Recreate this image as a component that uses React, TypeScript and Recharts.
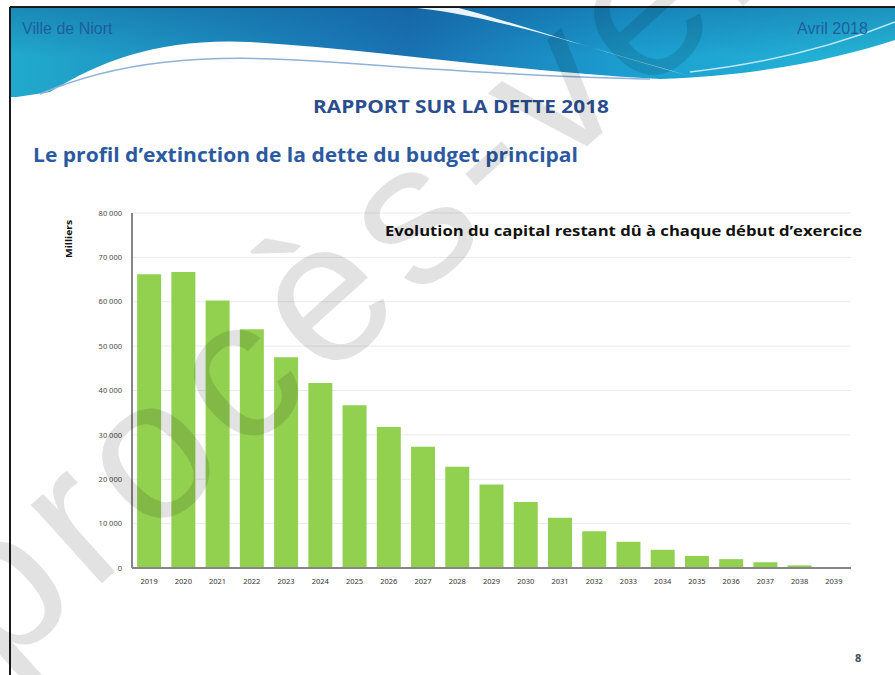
import React from 'react';
import { BarChart, Bar, XAxis, YAxis, CartesianGrid } from 'recharts';

// capital restant dû (milliers d'euros)
const years = [
  '2019', '2020', '2021', '2022', '2023', '2024', '2025', '2026', '2027', '2028', '2029',
  '2030', '2031', '2032', '2033', '2034', '2035', '2036', '2037', '2038', '2039',
];
const capital = [
  66200, 66700, 60300, 53800, 47500, 41700, 36700, 31800, 27300, 22800, 18800,
  14900, 11300, 8300, 5900, 4100, 2700, 2000, 1300, 600, 0,
];
const yTicks = [0, 10000, 20000, 30000, 40000, 50000, 60000, 70000, 80000];

const data = years.map((y, i) => ({ year: y, value: capital[i] }));

const fmt = (n: number) => (n === 0 ? '0' : `${n / 1000} 000`);

const W = 895;
const H = 675;

export default function App() {
  return (
    <div style={{ position: 'absolute', left: 0, top: 0, width: W, height: H, background: '#fff', overflow: 'hidden' }}>
      {/* header band of the slide */}
      <svg width={W} height={H} style={{ position: 'absolute', left: 0, top: 0 }}>
        <defs>
          <linearGradient id="band" x1="0" y1="0" x2="1" y2="0">
            <stop offset="0" stopColor="#21aacd" />
            <stop offset="0.45" stopColor="#1a72b3" />
            <stop offset="0.7" stopColor="#1c9fd0" />
            <stop offset="1" stopColor="#25b7d8" />
          </linearGradient>
          <linearGradient id="bandV" x1="0" y1="0" x2="0" y2="1">
            <stop offset="0" stopColor="#0d4f8f" stopOpacity="0.35" />
            <stop offset="1" stopColor="#0d4f8f" stopOpacity="0" />
          </linearGradient>
        </defs>
        <rect x={10} y={7} width={W - 10} height={90} fill="url(#band)" />
        <rect x={10} y={7} width={W - 10} height={50} fill="url(#bandV)" />
        <path
          d="M10,98 L50,92 C105,58 165,38 250,42 C380,50 520,72 660,79 C760,76 840,58 895,40 L895,98 Z"
          fill="#ffffff"
        />
        <path d="M405,7 C480,12 570,42 690,76 C600,52 520,24 455,7 Z" fill="#ffffff" opacity={0.92} />
        <path d="M40,94 C115,62 200,52 330,62 C440,70 560,78 650,79" stroke="#8fb2d6" strokeWidth={1.5} fill="none" />
        <path d="M690,72 C780,62 850,40 895,22" stroke="#bfe6f2" strokeWidth={1.5} fill="none" />
        <line x1={10} y1={7} x2={W} y2={7} stroke="#1a1a1a" strokeWidth={2} />
        <line x1={10} y1={7} x2={10} y2={H} stroke="#1a1a1a" strokeWidth={2} />
        <text x={22} y={34} fontFamily="Liberation Sans, Arial" fontSize={16} fill="#1f5e9e">Ville de Niort</text>
        <text x={797} y={34} fontFamily="Liberation Sans, Arial" fontSize={16} fill="#1f5e9e">Avril 2018</text>
      </svg>

      <div style={{ position: 'absolute', left: 0, top: 0 }}>
        <BarChart
          width={W}
          height={H}
          data={data}
          margin={{ top: 213, right: 44, left: 0, bottom: 87 }}
          barCategoryGap="15%"
        >
          <CartesianGrid vertical={false} stroke="#ebebeb" />
          <XAxis
            dataKey="year"
            height={20}
            tickLine={false}
            tickSize={6}
            tickMargin={5}
            axisLine={{ stroke: '#868686', strokeWidth: 2 }}
            tick={{ fontSize: 7.5, fill: '#333', fontFamily: 'Noto Sans' }}
            interval={0}
          />
          <YAxis
            width={132}
            domain={[0, 80000]}
            ticks={yTicks}
            tickFormatter={fmt}
            tickLine={false}
            tickSize={4}
            tickMargin={6}
            axisLine={{ stroke: '#868686', strokeWidth: 2 }}
            tick={{ fontSize: 7.5, fill: '#4a4a4a', fontFamily: 'Noto Sans' }}
            allowDataOverflow
          />
          <Bar dataKey="value" fill="#92d050" isAnimationActive={false} />
        </BarChart>
      </div>

      {/* titles and watermark */}
      <svg width={W} height={H} style={{ position: 'absolute', left: 0, top: 0, pointerEvents: 'none' }}>
        <text x={313} y={113} textLength={296} lengthAdjust="spacingAndGlyphs" fontFamily="Open Sans" fontWeight={700} fontSize={17} fill="#2b4d8e">
          RAPPORT SUR LA DETTE 2018
        </text>
        <text x={33} y={162} textLength={545} lengthAdjust="spacingAndGlyphs" fontFamily="Open Sans" fontWeight={700} fontSize={19} fill="#2c5aa0">
          Le profil d’extinction de la dette du budget principal
        </text>
        <text x={385} y={236} textLength={477} lengthAdjust="spacingAndGlyphs" fontFamily="Open Sans" fontWeight={700} fontSize={13.5} fill="#111">
          Evolution du capital restant dû à chaque début d’exercice
        </text>
        <text x={0} y={0} transform="translate(72,258) rotate(-90)" fontFamily="Open Sans" fontWeight={700} fontSize={8} fill="#111" textLength={38} lengthAdjust="spacingAndGlyphs">
          Milliers
        </text>
        <text x={855} y={662} fontFamily="Open Sans" fontWeight={700} fontSize={11} fill="#3b4a5c">8</text>
        <text
          x={0}
          y={0}
          transform="translate(0,675) rotate(-42)"
          fontFamily="Liberation Sans, Arial"
          fontSize={200}
          letterSpacing={12}
          fill="#000"
          opacity={0.11}
        >
          procès-verbal
        </text>
      </svg>
    </div>
  );
}
